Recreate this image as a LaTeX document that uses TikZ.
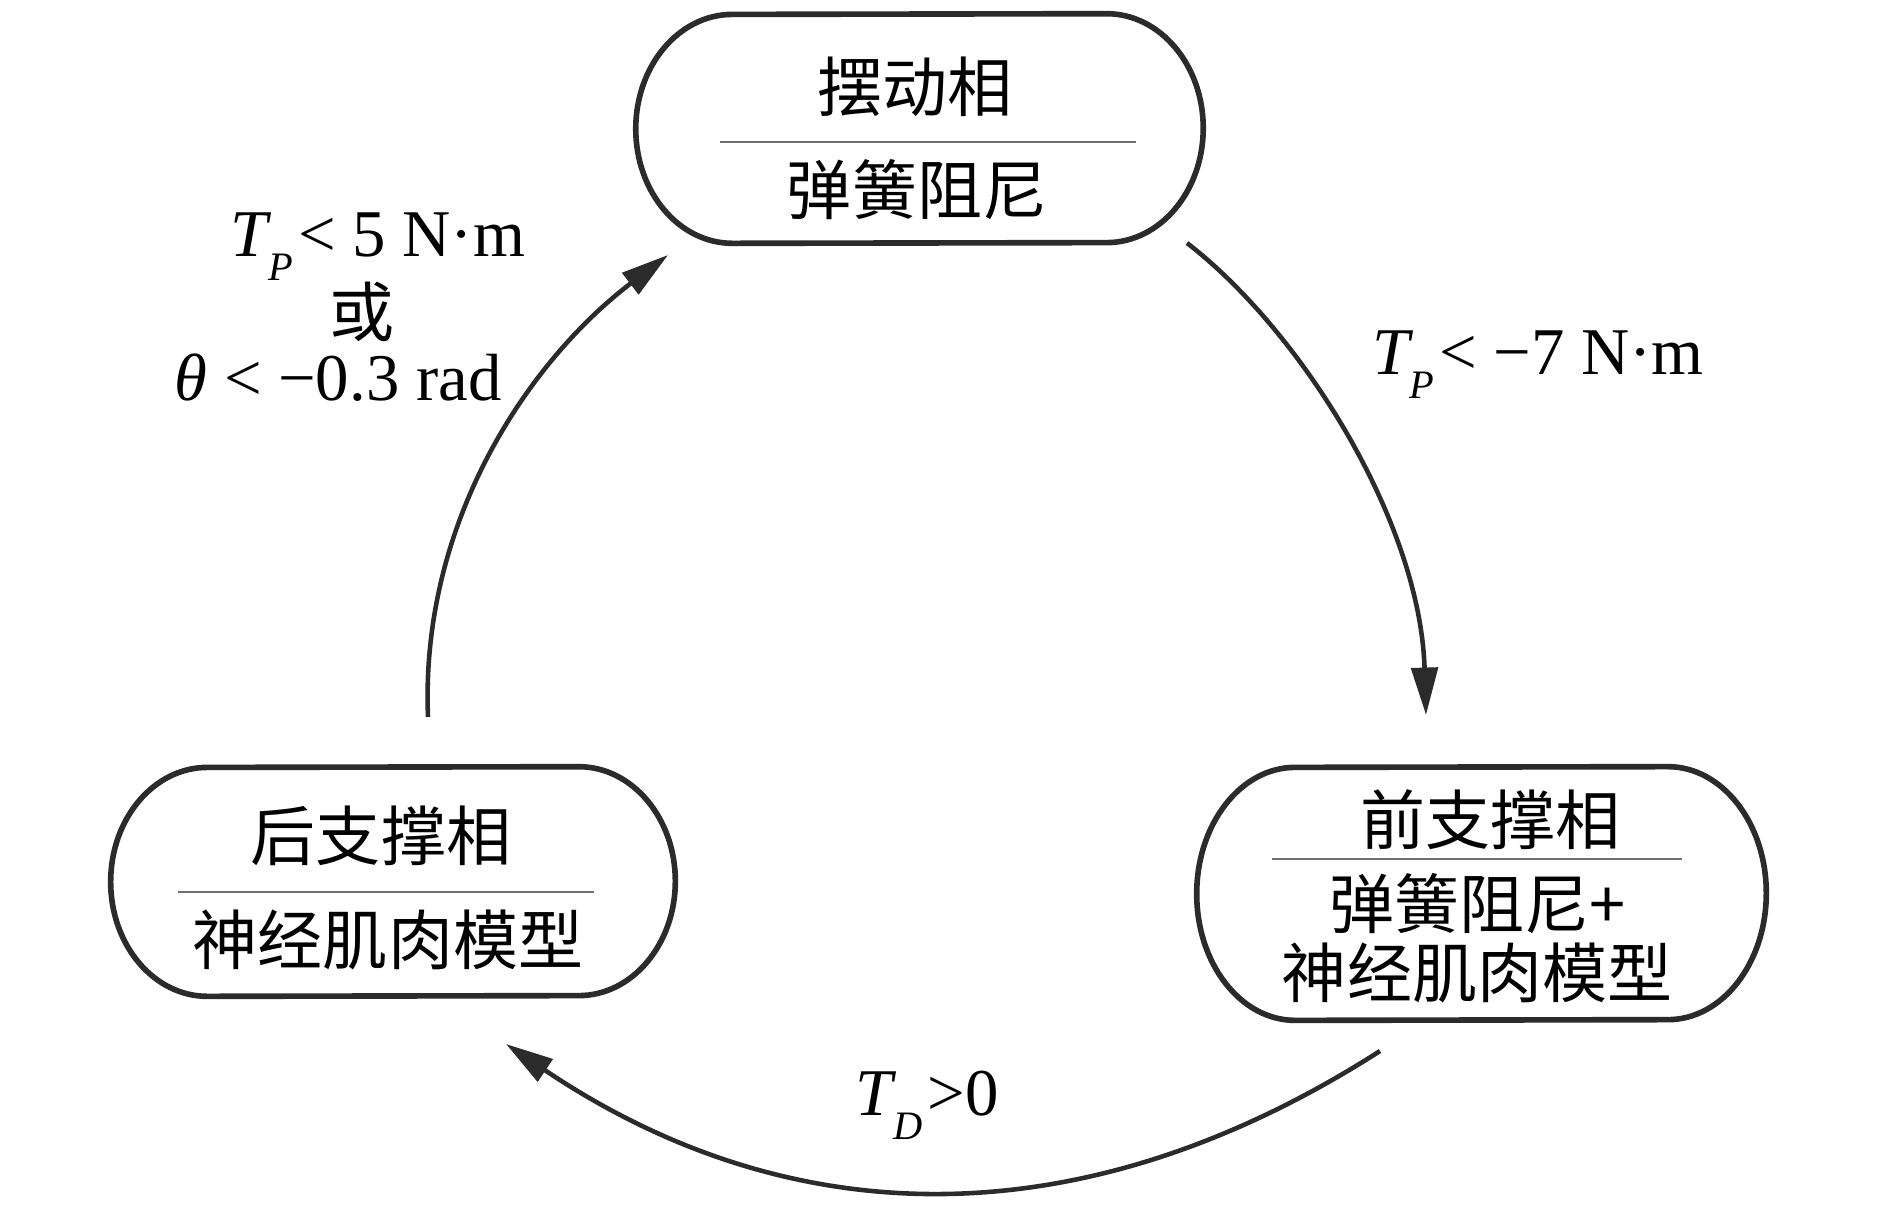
\documentclass[tikz,border=0pt]{standalone}
\usepackage{fontspec}
\setmainfont{Liberation Serif}
\newfontfamily\cjk{Noto Sans CJK SC}
\usetikzlibrary{arrows.meta,calc}

\definecolor{ink}{HTML}{2B2B2B}
\definecolor{rulegray}{HTML}{707070}

\newcommand\Tsub[1]{\textit{T}\kern-2pt\raisebox{-14pt}{\fontsize{23}{23}\selectfont\textit{#1}}\kern3pt}

\newcommand\stadium[3]{%
  \draw[border] ($(#1.north east)+(-#2pt,0pt)$)
     arc[start angle=90,end angle=-90,x radius=#2pt,y radius=#3pt]
     -- ($(#1.south west)+(#2pt,0pt)$)
     arc[start angle=270,end angle=90,x radius=#2pt,y radius=#3pt] -- cycle;}

\tikzset{
  phase/.style={draw=none, inner sep=0pt},
  border/.style={draw=ink, line width=3.2pt},
  divider/.style={draw=rulegray, line width=0.9pt},
  cjktext/.style={font=\cjk\fontsize{37}{44}\selectfont, inner sep=0pt},
  cond/.style={font=\fontsize{38}{44}\selectfont, inner sep=0pt, anchor=base},
  trans/.style={draw=ink, line width=2.6pt, -{Triangle[length=27pt,width=15pt]}},
}

\begin{document}
\begin{tikzpicture}[x=0.02cm, y=-0.02cm]
\useasboundingbox (0,0) rectangle (1890,1208);

% phase boxes
\node[phase, minimum width=322.6pt, minimum height=130.3pt] (swing) at (919.5,128.5) {};
\node[phase, minimum width=321pt, minimum height=130.3pt] (back) at (393,881.5) {};
\node[phase, minimum width=323.8pt, minimum height=144pt] (front) at (1481.5,893.5) {};
\stadium{swing}{55}{65.15}
\stadium{back}{55}{65.15}
\stadium{front}{56}{72}

% texts
\node[cjktext] (swingT) at (915,87) {摆动相};
\node[cjktext] (swingB) at (917,190) {弹簧阻尼};
\draw[divider] (720,142) -- (1136,142);

\node[cjktext] (backT) at (381,836) {后支撑相};
\node[cjktext] (backB) at (388,940) {神经肌肉模型};
\draw[divider] (178,892) -- (594,892);

\node[cjktext] (frontT) at (1490,820) {前支撑相};
\node[cjktext] (frontB1) at (1478,904) {弹簧阻尼+};
\node[cjktext] (frontB2) at (1477,973) {神经肌肉模型};
\draw[divider] (1272,859) -- (1682,859);

% transitions
\coordinate (a1s) at (1187,243);
\coordinate (a1e) at (1426,715);
\draw[trans] (a1s) .. controls (1300,330) and (1420,520) .. (a1e);

\coordinate (a2s) at (1380,1051);
\coordinate (a2e) at (506,1044);
\draw[trans] (a2s) .. controls (1085,1240) and (793,1237) .. (a2e);

\coordinate (a3s) at (428,717);
\coordinate (a3e) at (668,255);
\draw[trans] (a3s) .. controls (420,520) and (530,360) .. (a3e);

% conditions
\node[cond] (c1) at (378,256) {\Tsub{P}< 5 N·m};
\node[cjktext] (c1or) at (362,312) {或};
\node[cond] (c1b) at (338,400) {\textit{θ} < −0.3 rad};
\node[cond] (c2) at (1538,374) {\Tsub{P}< −7 N·m};
\node[cond] (c3) at (927,1115) {\Tsub{D}>0};
\end{tikzpicture}
\end{document}
